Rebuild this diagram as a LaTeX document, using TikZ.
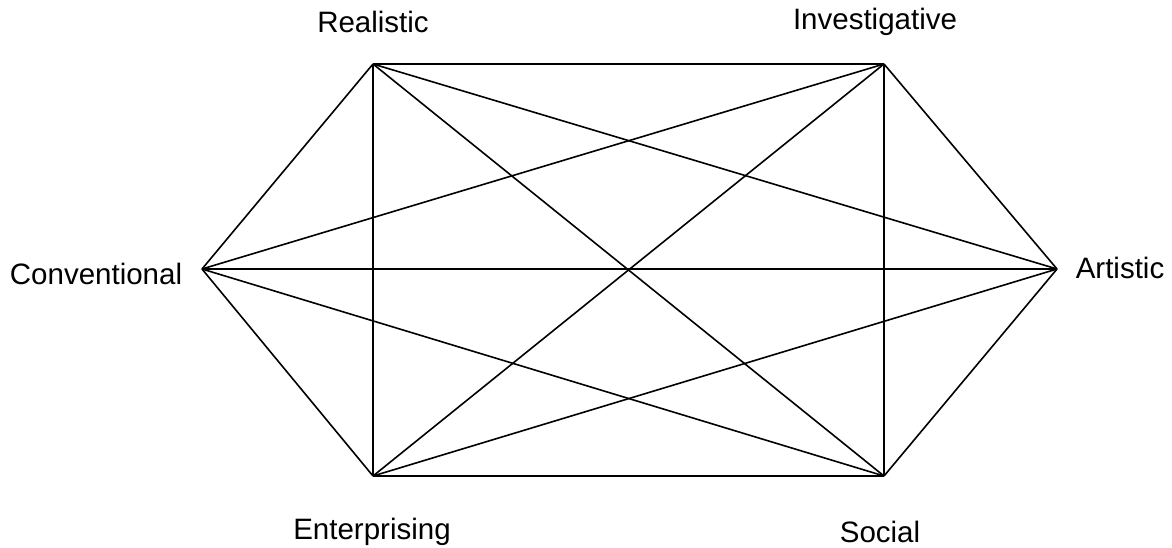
\documentclass[tikz,border=0pt]{standalone}
\usepackage{fontspec}
\setmainfont{Liberation Sans}
\begin{document}
\begin{tikzpicture}[x=1pt,y=-1pt,
    typelabel/.style={font=\fontsize{29.5}{32}\selectfont, inner sep=0pt},
    edge/.style={line width=1.6pt}]
        \useasboundingbox (0,0) rectangle (1172,548);
        % corners
        \coordinate (R) at (373, 64);
        \coordinate (I) at (884, 64);
        \coordinate (A) at (1057, 269);
        \coordinate (S) at (884, 476);
        \coordinate (E) at (373, 476);
        \coordinate (C) at (202, 269);
        % labels
        \node[typelabel] (R-label) at (373, 22)  {Realistic};
        \node[typelabel] (I-label) at (875, 22)  {Investigative};
        \node[typelabel] (A-label) at (1120, 268) {Artistic};
        \node[typelabel] (S-label) at (880, 532) {Social};
        \node[typelabel] (E-label) at (372, 532) {Enterprising};
        \node[typelabel] (C-label) at (96, 274)  {Conventional};
        % lines
        \draw[edge] (R) -- (I);
        \draw[edge] (R) -- (A);
        \draw[edge] (R) -- (S);
        \draw[edge] (R) -- (E);
        \draw[edge] (R) -- (C);
        \draw[edge] (I) -- (A);
        \draw[edge] (I) -- (S);
        \draw[edge] (I) -- (E);
        \draw[edge] (I) -- (C);
        \draw[edge] (A) -- (S);
        \draw[edge] (A) -- (E);
        \draw[edge] (A) -- (C);
        \draw[edge] (S) -- (E);
        \draw[edge] (S) -- (C);
        \draw[edge] (E) -- (C);
\end{tikzpicture}
\end{document}
